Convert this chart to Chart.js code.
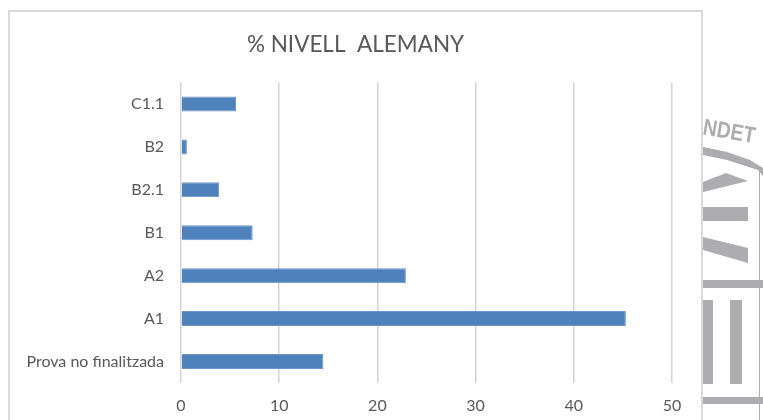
<!DOCTYPE html>
<html><head><meta charset="utf-8">
<style>html,body{margin:0;padding:0;background:#fff}canvas{display:block}</style>
<script src="https://cdn.jsdelivr.net/npm/chart.js@4"></script></head>
<body><canvas id="c" width="763" height="420"></canvas>
<script>
const categories = ["C1.1","B2","B2.1","B1","A2","A1","Prova no finalitzada"];
const percentages = [5.6,0.6,3.9,7.3,22.9,45.3,14.5];
const titleText = "% NIVELL  ALEMANY";
const xTicksMax = 50;
const xTicksStep = 10;

const backdrop = {
  id:'backdrop',
  beforeDraw(chart){
    const g = chart.ctx;
    g.save();
    g.fillStyle = '#fff'; g.fillRect(0,0,763,420);
    g.fillStyle = '#acacb1';
    const polys = [
      [[703,147],[727,152],[750,160],[763,168],[763,176],[758,170],[727,160],[703,155]],
      [[703,182],[726,173],[748,181],[703,192]],
      [[703,207],[748,207],[748,221],[703,221]],
      [[703,237],[748,248],[748,263],[703,250]],
      [[703,280],[763,280],[763,288],[703,288]],
      [[703,300],[713,300],[713,384],[703,384]],
      [[730,300],[742,300],[742,384],[730,384]],
      [[703,397],[763,397],[763,404],[703,404]],
      [[759,170],[760,170],[760,420],[759,420]]
    ];
    polys.forEach(p=>{g.beginPath();p.forEach((q,i)=>i?g.lineTo(q[0],q[1]):g.moveTo(q[0],q[1]));g.closePath();g.fill();});
    g.translate(703,128); g.rotate(0.17); g.scale(0.84,1);
    g.font='bold 23px "Liberation Sans"'; g.textBaseline='middle';
    g.fillText('NDET',0,0);
    g.restore();
    g.save();
    g.strokeStyle='#d9d9d9'; g.lineWidth=2;
    g.strokeRect(9,11,693,420);
    g.restore();
  }
};

new Chart(document.getElementById('c'),{
  type:'bar',
  plugins:[backdrop],
  data:{labels:categories,datasets:[{data:percentages,backgroundColor:'#4f81bd',borderColor:'#6a96cc',borderWidth:1,barPercentage:0.35,categoryPercentage:1}]},
  options:{
    indexAxis:'y',responsive:false,animation:false,
    layout:{padding:{left:9,right:61,top:0,bottom:0}},
    plugins:{legend:{display:false},tooltip:{enabled:false},
      title:{display:true,text:titleText,color:'#595959',font:{family:'Lato',size:22.5,weight:'normal'},padding:{top:31,bottom:24.5}}},
    scales:{
      x:{min:0,max:xTicksMax,position:'bottom',
        ticks:{stepSize:xTicksStep,color:'#595959',font:{family:'Lato',size:16},maxRotation:0,padding:13},
        grid:{color:'#d4d4d4',lineWidth:1.5,drawTicks:false},border:{display:false},
        afterFit(s){s.height=37;}},
      y:{ticks:{color:'#595959',font:{family:'Lato',size:16},padding:17},
        grid:{display:false,drawTicks:false},border:{display:false},
        afterFit(s){s.width=172;}},
      pad:{type:'linear',position:'right',display:true,grid:{display:false,drawTicks:false},border:{display:false},ticks:{display:false},
        afterFit(s){s.width=30;}}
    }
  }
});
</script></body></html>
